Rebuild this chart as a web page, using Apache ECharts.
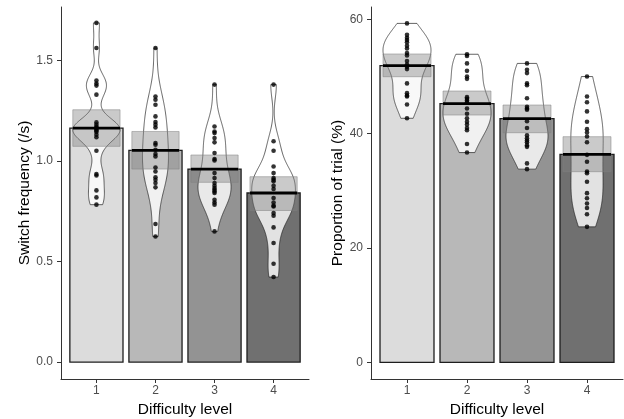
<!DOCTYPE html>
<html><head><meta charset="utf-8">
<script src="https://cdn.jsdelivr.net/npm/echarts@6/dist/echarts.min.js"></script>
<style>html,body{margin:0;padding:0;background:#fff}#c{width:624px;height:419px}</style>
</head><body><div id="c"></div>
<script>
// ---------- data ----------
const categories = ['1', '2', '3', '4'];
const freqTicks = [0, 0.5, 1.0, 1.5];
const propTicks = [0, 20, 40, 60];

const freqMeans = [1.164, 1.053, 0.960, 0.841];
const freqLow   = [1.073, 0.960, 0.894, 0.754];
const freqHigh  = [1.255, 1.147, 1.030, 0.922];
const freqLevel1 = [1.687,1.562,1.400,1.385,1.375,1.330,1.192,1.181,1.170,1.164,1.156,1.150,1.144,1.131,1.118,1.051,0.935,0.928,0.854,0.819,0.783];
const freqLevel2 = [1.562,1.321,1.305,1.280,1.222,1.194,1.181,1.167,1.090,1.081,1.056,1.035,1.023,0.968,0.948,0.919,0.907,0.891,0.869,0.687,0.625];
const freqLevel3 = [1.380,1.172,1.147,1.139,1.114,1.093,1.040,1.010,1.003,0.940,0.915,0.891,0.877,0.866,0.857,0.849,0.841,0.807,0.794,0.783,0.650];
const freqLevel4 = [1.380,1.098,1.051,0.973,0.940,0.915,0.907,0.899,0.877,0.861,0.816,0.794,0.778,0.774,0.741,0.728,0.670,0.592,0.489,0.423];

const propMeans = [51.9, 45.25, 42.63, 36.4];
const propLow   = [49.97, 43.27, 40.17, 33.35];
const propHigh  = [53.95, 47.47, 45.02, 39.48];
const propLevel1 = [59.3,57.3,56.8,56.4,56.0,55.4,54.9,54.1,53.7,52.7,52.1,51.7,51.3,48.8,47.1,46.7,46.5,45.1,42.7];
const propLevel2 = [53.9,53.6,52.3,51.0,50.0,49.6,46.4,46.1,45.8,45.5,44.4,43.5,42.7,42.1,41.6,41.0,40.6,38.2,36.7];
const propLevel3 = [52.3,51.2,50.6,48.8,48.5,46.2,44.7,44.4,44.2,42.2,41.0,39.7,39.2,38.8,38.5,38.0,37.7,34.8,33.8];
const propLevel4 = [50.0,46.5,45.5,43.9,42.1,40.8,40.2,39.5,38.5,36.3,35.1,33.4,33.1,31.6,29.6,28.7,27.8,27.0,25.9,23.7];

// ---------- styles / sizes ----------
const FONT = 'Liberation Sans, Arial, sans-serif';
const barColors = ['#dcdcdc', '#b8b8b8', '#939393', '#707070'];
const BAR_HALF = 0.45, BOX_HALF = 0.4;
const freqViolinHalf = [0.40, 0.22, 0.28, 0.37];
const propViolinHalf = [0.40, 0.40, 0.35, 0.27];
const freqBwAdjust = [0.5, 1, 1, 1];
const propBwAdjust = [1, 1, 1, 1];

// ---------- violin density (gaussian KDE, nrd0 bandwidth, trimmed) ----------
function quantile(s, p) { const h = (s.length - 1) * p, lo = Math.floor(h); return lo + 1 < s.length ? s[lo] + (h - lo) * (s[lo + 1] - s[lo]) : s[lo]; }
function density(vals, adjust) {
  const n = vals.length, s = vals.slice().sort((a, b) => a - b);
  const mean = vals.reduce((a, b) => a + b, 0) / n;
  const sd = Math.sqrt(vals.reduce((a, b) => a + (b - mean) * (b - mean), 0) / (n - 1));
  const iqr = quantile(s, 0.75) - quantile(s, 0.25);
  const lo = Math.min(sd, iqr / 1.34) || sd || 1;
  const bw = 0.9 * lo * Math.pow(n, -0.2) * adjust;
  const ys = [], ds = [], N = 200;
  for (let j = 0; j <= N; j++) {
    const y = s[0] + (s[n - 1] - s[0]) * j / N;
    let d = 0;
    for (const v of vals) { const z = (y - v) / bw; d += Math.exp(-0.5 * z * z); }
    ys.push(y); ds.push(d);
  }
  const mx = Math.max(...ds);
  return { y: ys, d: ds.map(v => v / mx) };
}

function panelSeries(pi, means, lows, highs, groups, halfW, adj) {
  const kde = groups.map((g, i) => density(g, adj[i]));
  const ax = { xAxisIndex: pi, yAxisIndex: pi };
  const base = means.map((m, i) => [i + 1, m]);
  return [
    { type: 'custom', ...ax, z: 1, data: base, renderItem: (p, api) => {
        const x = api.value(0), y = api.value(1);
        const a = api.coord([x - BAR_HALF, 0]), b = api.coord([x + BAR_HALF, y]);
        return { type: 'rect', shape: { x: a[0], y: b[1], width: b[0] - a[0], height: a[1] - b[1] },
          style: { fill: barColors[p.dataIndex], stroke: '#1e1e1e', lineWidth: 1.3 } };
      } },
    { type: 'custom', ...ax, z: 2, data: base, renderItem: (p, api) => {
        const g = p.dataIndex, k = kde[g], xc = g + 1, w = halfW[g], pts = [];
        for (let j = 0; j < k.y.length; j++) pts.push(api.coord([xc + k.d[j] * w, k.y[j]]));
        for (let j = k.y.length - 1; j >= 0; j--) pts.push(api.coord([xc - k.d[j] * w, k.y[j]]));
        return { type: 'polygon', shape: { points: pts },
          style: { fill: 'rgba(255,255,255,0.8)', stroke: '#222', lineWidth: 0.7 } };
      } },
    { type: 'custom', ...ax, z: 3, data: means.map((m, i) => [i + 1, lows[i], highs[i]]), renderItem: (p, api) => {
        const x = api.value(0);
        const a = api.coord([x - BOX_HALF, api.value(1)]), b = api.coord([x + BOX_HALF, api.value(2)]);
        return { type: 'rect', shape: { x: a[0], y: b[1], width: b[0] - a[0], height: a[1] - b[1] },
          style: { fill: 'rgba(128,128,128,0.42)', stroke: 'rgba(128,128,128,0.5)', lineWidth: 1 } };
      } },
    { type: 'custom', ...ax, z: 4, data: base, renderItem: (p, api) => {
        const x = api.value(0), y = api.value(1);
        const a = api.coord([x - BOX_HALF, y]), b = api.coord([x + BOX_HALF, y]);
        return { type: 'line', shape: { x1: a[0], y1: a[1], x2: b[0], y2: b[1] },
          style: { stroke: '#000', lineWidth: 2.8 } };
      } },
    { type: 'scatter', ...ax, z: 5, symbolSize: 4.6, itemStyle: { color: '#000' },
      data: groups.flatMap((g, i) => g.map(v => [i + 1, v])) }
  ];
}

function xAxisCfg(gi) {
  return { type: 'value', gridIndex: gi, min: 0.4, max: 4.6,
    name: 'Difficulty level', nameLocation: 'middle', nameGap: 21,
    nameTextStyle: { fontSize: 15.5, color: '#000', fontFamily: FONT },
    axisLine: { show: true, onZero: false, lineStyle: { color: '#333', width: 1 } },
    axisTick: { show: true, customValues: [1, 2, 3, 4], length: 4, lineStyle: { color: '#333', width: 1 } },
    axisLabel: { customValues: [1, 2, 3, 4], formatter: v => categories[Math.round(v) - 1],
      color: '#4d4d4d', fontSize: 12, margin: 6, fontFamily: FONT },
    splitLine: { show: false } };
}
function yAxisCfg(gi, name, min, max, ticks, fmt, gap) {
  return { type: 'value', gridIndex: gi, min, max,
    name, nameLocation: 'middle', nameGap: gap,
    nameTextStyle: { fontSize: 15.5, color: '#000', fontFamily: FONT },
    axisLine: { show: true, onZero: false, lineStyle: { color: '#333', width: 1 } },
    axisTick: { show: true, customValues: ticks, length: 4, lineStyle: { color: '#333', width: 1 } },
    axisLabel: { customValues: ticks, formatter: fmt, color: '#4d4d4d', fontSize: 12, margin: 8, fontFamily: FONT },
    splitLine: { show: false } };
}

const chart = echarts.init(document.getElementById('c'), null, { renderer: 'canvas' });
chart.setOption({
  animation: false,
  backgroundColor: '#fff',
  grid: [
    { left: 61, right: 315, top: 7, bottom: 40, containLabel: false, outerBoundsMode: 'none' },
    { left: 371, right: 1, top: 7, bottom: 40, containLabel: false, outerBoundsMode: 'none' }
  ],
  xAxis: [xAxisCfg(0), xAxisCfg(1)],
  yAxis: [
    yAxisCfg(0, 'Switch frequency (/s)', -0.084, 1.766, freqTicks, v => v.toFixed(1), 27),
    yAxisCfg(1, 'Proportion of trial (%)', -2.92, 62.17, propTicks, v => String(Math.round(v)), 20)
  ],
  series: [
    ...panelSeries(0, freqMeans, freqLow, freqHigh, [freqLevel1, freqLevel2, freqLevel3, freqLevel4], freqViolinHalf, freqBwAdjust),
    ...panelSeries(1, propMeans, propLow, propHigh, [propLevel1, propLevel2, propLevel3, propLevel4], propViolinHalf, propBwAdjust)
  ]
});
</script></body></html>
